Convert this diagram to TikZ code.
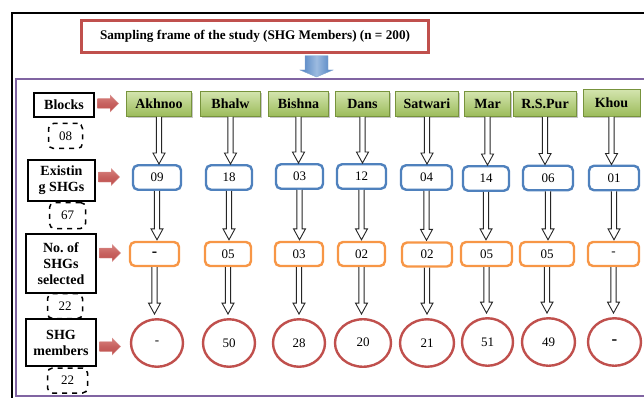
\documentclass[tikz,border=0pt]{standalone}
\usepackage{fontspec}
\setmainfont{Liberation Serif}
\usetikzlibrary{shapes.arrows,shapes.geometric,shadows,calc}
\definecolor{redln}{HTML}{C0504D}
\definecolor{redlt}{HTML}{D9827F}
\definecolor{blueln}{HTML}{4F81BD}
\definecolor{orangeln}{HTML}{F79646}
\definecolor{purpleln}{HTML}{8064A2}
\definecolor{greenln}{HTML}{77933C}
\definecolor{greentop}{HTML}{D3E4AE}
\definecolor{greenbot}{HTML}{9BBB59}
\definecolor{bluetop}{HTML}{9DBBE0}
\definecolor{bluebot}{HTML}{4A7EC0}
\frenchspacing
\tikzset{
  lbl/.style={draw=black, line width=2.4pt, fill=white, font=\fontsize{14}{16}\selectfont\bfseries, align=center, inner sep=0pt},
  dashbox/.style={draw=black, line width=1.5pt, dash pattern=on 5pt off 5pt, rounded corners=5pt, fill=white, font=\fontsize{13}{14}\selectfont, inner sep=0pt},
  blk/.style={draw=greenln, line width=0.8pt, top color=greentop, bottom color=greenbot, font=\fontsize{14}{14}\selectfont\bfseries, inner sep=0pt, minimum height=25pt, drop shadow={shadow xshift=1.3pt, shadow yshift=-1.3pt, opacity=0.45}},
  shg/.style={draw=blueln, line width=2.4pt, rounded corners=5pt, fill=white, font=\fontsize{13}{14}\selectfont, inner sep=0pt, minimum height=24.5pt},
  sel/.style={draw=orangeln, line width=2.4pt, rounded corners=5pt, fill=white, font=\fontsize{13}{14}\selectfont, inner sep=0pt, minimum height=24pt},
  mem/.style={ellipse, draw=redln, line width=2.4pt, fill=white, font=\fontsize{13}{14}\selectfont, inner sep=0pt, minimum height=47.5pt},
  bigdash/.style={font=\fontsize{17}{17}\selectfont\bfseries},
  redarrow/.style={top color=redlt, bottom color=redln, middle color=redln!90, draw=redln!60, line width=0.4pt},
  bluearrow/.style={left color=bluebot, right color=bluebot, middle color=bluetop, draw=blueln!70, line width=0.4pt},
  openarrow/.style={draw=black!85, line width=0.9pt, fill=white},
  titlebox/.style={draw=redln, line width=2.5pt, fill=white, font=\fontsize{13.2}{15}\selectfont\bfseries, minimum width=347pt, minimum height=32pt, inner sep=0pt}
}
\newcommand\openarr[3][0pt]{%
  \draw[openarrow] let \p1=(#2.south), \p2=(#3.north) in
    (\x1-2.6pt,\y1) -- (\x1-2.6pt,\y2+#1+11pt) -- (\x1-6pt,\y2+#1+11pt) --
    (\x1,\y2+#1) -- (\x1+6pt,\y2+#1+11pt) -- (\x1+2.6pt,\y2+#1+11pt) -- (\x1+2.6pt,\y1);}
% red block arrow from label #1 toward node #2, vertical offset #3 (pt, downward positive)
\newcommand\redarr[3]{%
  \path[redarrow] let \p1=(#1.east), \p2=(#2.west) in
    (\x1+2.5pt,\y2-#3+5pt) -- (\x1+15pt,\y2-#3+5pt) -- (\x1+15pt,\y2-#3+8.5pt) --
    (\x1+23.5pt,\y2-#3) -- (\x1+15pt,\y2-#3-8.5pt) -- (\x1+15pt,\y2-#3-5pt) --
    (\x1+2.5pt,\y2-#3-5pt) -- cycle;}
\begin{document}
\begin{tikzpicture}[x=1pt,y=-1pt]
\useasboundingbox (0,0) rectangle (644,398);
\clip (0,0) rectangle (644,398);
% frames
\draw[line width=2pt] (12,420) -- (12,13) -- (700,13);
\draw[purpleln, line width=2pt] (700,79) -- (16,79) -- (16,396) -- (700,396);
% title
\node[titlebox] (title) at (255,36.5) {Sampling frame of the study (SHG Members) (n = 200)};
\coordinate (frametop) at (316.5,78);
\path[bluearrow] let \p1=(title.south), \p2=(frametop) in
  (\x2-11.5pt,\y1-2pt) -- (\x2+11.5pt,\y1-2pt) -- (\x2+11.5pt,\y2+8pt) --
  (\x2+16.5pt,\y2+8pt) -- (\x2,\y2+1pt) -- (\x2-16.5pt,\y2+8pt) -- (\x2-11.5pt,\y2+8pt) -- cycle;
% left labels
\node[lbl, minimum width=60pt, minimum height=24pt] (lblock) at (64,105) {Blocks};
\node[dashbox, minimum width=34pt, minimum height=25pt] (d1) at (65.5,136) {08};
\node[dashbox, minimum width=36pt, minimum height=26pt] (d2) at (67.5,215.5) {67};
\node[lbl, minimum width=67pt, minimum height=41pt] (lexist) at (61.5,180.5) {Existin\\g SHGs};
\node[dashbox, minimum width=35pt, minimum height=25pt] (d3) at (65,306) {22};
\node[dashbox, minimum width=40pt, minimum height=25pt] (d4) at (67.5,380.5) {22};
\node[lbl, minimum width=70pt, minimum height=59pt] (lsel) at (61,263.5) {No. of\\SHGs\\selected};
\node[lbl, minimum width=70pt, minimum height=47pt] (lmem) at (61,342.5) {SHG\\members};
% blocks
\node[blk, minimum width=65pt] (g1) at (159,104) {Akhnoo};
\node[blk, minimum width=60pt] (g2) at (230.5,104) {Bhalw};
\node[blk, minimum width=60pt] (g3) at (298.5,104) {Bishna};
\node[blk, minimum width=54pt] (g4) at (362.5,104) {Dans};
\node[blk, minimum width=63pt] (g5) at (427,104) {Satwari};
\node[blk, minimum width=46pt] (g6) at (487.5,104) {Mar};
\node[blk, minimum width=63pt] (g7) at (545,104) {R.S.Pur};
\node[blk, minimum width=57pt, minimum height=27pt] (g8) at (611.5,103) {Khou};
% existing SHGs
\node[shg, minimum width=48pt] (b1) at (157,177.5) {09};
\node[shg, minimum width=46pt] (b2) at (229,177.5) {18};
\node[shg, minimum width=47pt] (b3) at (299.5,176.5) {03};
\node[shg, minimum width=49pt] (b4) at (361.5,176.5) {12};
\node[shg, minimum width=51pt] (b5) at (426.5,177.5) {04};
\node[shg, minimum width=46pt] (b6) at (486,178.5) {14};
\node[shg, minimum width=50pt] (b7) at (548,178) {06};
\node[shg, minimum width=50pt] (b8) at (614,178) {01};
% selected
\node[sel, minimum width=49pt] (o1) at (154.5,254) {\raisebox{-2pt}{\bfseries\fontsize{16}{16}\selectfont -}};
\node[sel, minimum width=46pt] (o2) at (228,254) {05};
\node[sel, minimum width=48pt] (o3) at (299,254) {03};
\node[sel, minimum width=47pt] (o4) at (361.5,254) {02};
\node[sel, minimum width=50pt] (o5) at (427,254.5) {02};
\node[sel, minimum width=51pt] (o6) at (486.5,254) {05};
\node[sel, minimum width=54pt] (o7) at (547,254) {05};
\node[sel, minimum width=51pt] (o8) at (613.5,254) {\raisebox{-3pt}{-}};
% members
\node[mem, minimum width=52pt] (e1) at (157,343) {-};
\node[mem, minimum width=52pt] (e2) at (229,343) {50};
\node[mem, minimum width=52pt] (e3) at (299,343) {28};
\node[mem, minimum width=56pt] (e4) at (363,343) {\raisebox{2pt}{20}};
\node[mem, minimum width=54pt] (e5) at (427,343) {21};
\node[mem, minimum width=51pt] (e6) at (487.5,342) {51};
\node[mem, minimum width=53pt] (e7) at (548.5,342) {49};
\node[mem, minimum width=53pt] (e8) at (614.5,342) {\bfseries\fontsize{17}{17}\selectfont -};
% red arrows
\redarr{lblock}{g1}{-0.5}
\redarr{lexist}{b1}{-0.5}
\redarr{lsel}{o1}{-1}
\redarr{lmem}{e1}{3.5}
% open arrows
\foreach \i in {1,...,8}{
  \openarr{g\i}{b\i}
  \openarr[1pt]{b\i}{o\i}
  \openarr[4pt]{o\i}{e\i}
}
\end{tikzpicture}
\end{document}
